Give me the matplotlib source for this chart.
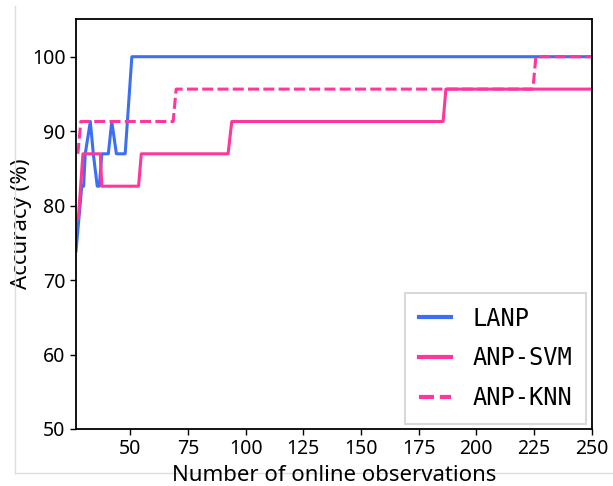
import matplotlib
matplotlib.use("Agg")
import matplotlib.pyplot as plt
from matplotlib.lines import Line2D

# Data (x = number of online observations, y = accuracy %)
lanp_x = [26.5, 29.0, 29.8, 30.5, 32.7, 34.0, 35.7, 36.6, 37.7, 40.5, 42.0, 44.0, 47.8, 50.7, 250.0]
lanp_y = [73.91, 82.61, 82.61, 86.96, 91.30, 86.96, 82.61, 82.61, 86.96, 86.96, 91.30, 86.96, 86.96, 100.0, 100.0]

svm_x = [26.8, 27.5, 29.5, 37.0, 37.7, 53.6, 54.8, 92.4, 94.0, 185.6, 186.8, 250.0]
svm_y = [78.26, 78.26, 86.96, 86.96, 82.61, 82.61, 86.96, 86.96, 91.30, 91.30, 95.65, 95.65]

knn_x = [27.3, 28.6, 68.6, 69.9, 224.5, 225.8, 250.0]
knn_y = [86.96, 91.30, 91.30, 95.65, 95.65, 100.0, 100.0]

labels = ["LANP", "ANP-SVM", "ANP-KNN"]
xticks = [50, 75, 100, 125, 150, 175, 200, 225, 250]
yticks = [50, 60, 70, 80, 90, 100]

blue = "#3c6ff5"
pink = "#ff369c"

plt.rcParams['font.family'] = ['Noto Sans', 'DejaVu Sans']

fig = plt.figure(figsize=(6.13, 4.86), dpi=100)
ax = fig.add_axes([0.124, 0.1173, 0.8413, 0.8426])

ax.plot(lanp_x, lanp_y, color=blue, lw=2.2, label=labels[0])
ax.plot(svm_x, svm_y, color=pink, lw=2.2, label=labels[1])
ax.plot(knn_x, knn_y, color=pink, lw=2.2, ls=(0, (3.6, 1.4)), label=labels[2])

ax.set_xlim(26.5, 250)
ax.set_ylim(50, 105)
ax.set_xticks(xticks)
ax.set_yticks(yticks)
ax.tick_params(labelsize=14, length=4, width=1)
for s in ax.spines.values():
    s.set_linewidth(1.3)
ax.set_ylabel("Accuracy (%)", fontsize=16, labelpad=0)
ax.set_xlabel("Number of online observations", fontsize=16, labelpad=4)

leg = ax.legend(loc="lower right", bbox_to_anchor=(0.989, 0.012), borderaxespad=0,
                prop={'family': 'DejaVu Sans Mono', 'size': 17}, fancybox=False,
                edgecolor="#d9d9d9", framealpha=1, handlelength=1.35,
                labelspacing=0.66, borderpad=0.6, handletextpad=0.9)
leg.get_frame().set_linewidth(1.5)
for line in leg.get_lines():
    line.set_linewidth(3)

# light gray frame lines of the original figure
fig.add_artist(Line2D([15/613, 15/613], [1 - 6/486, 1 - 473/486], color="#dddddd", lw=1, transform=fig.transFigure))
fig.add_artist(Line2D([15/613, 1.0], [1 - 473/486, 1 - 473/486], color="#dddddd", lw=1, transform=fig.transFigure, zorder=-1))

fig.savefig("out.png", dpi=100)
